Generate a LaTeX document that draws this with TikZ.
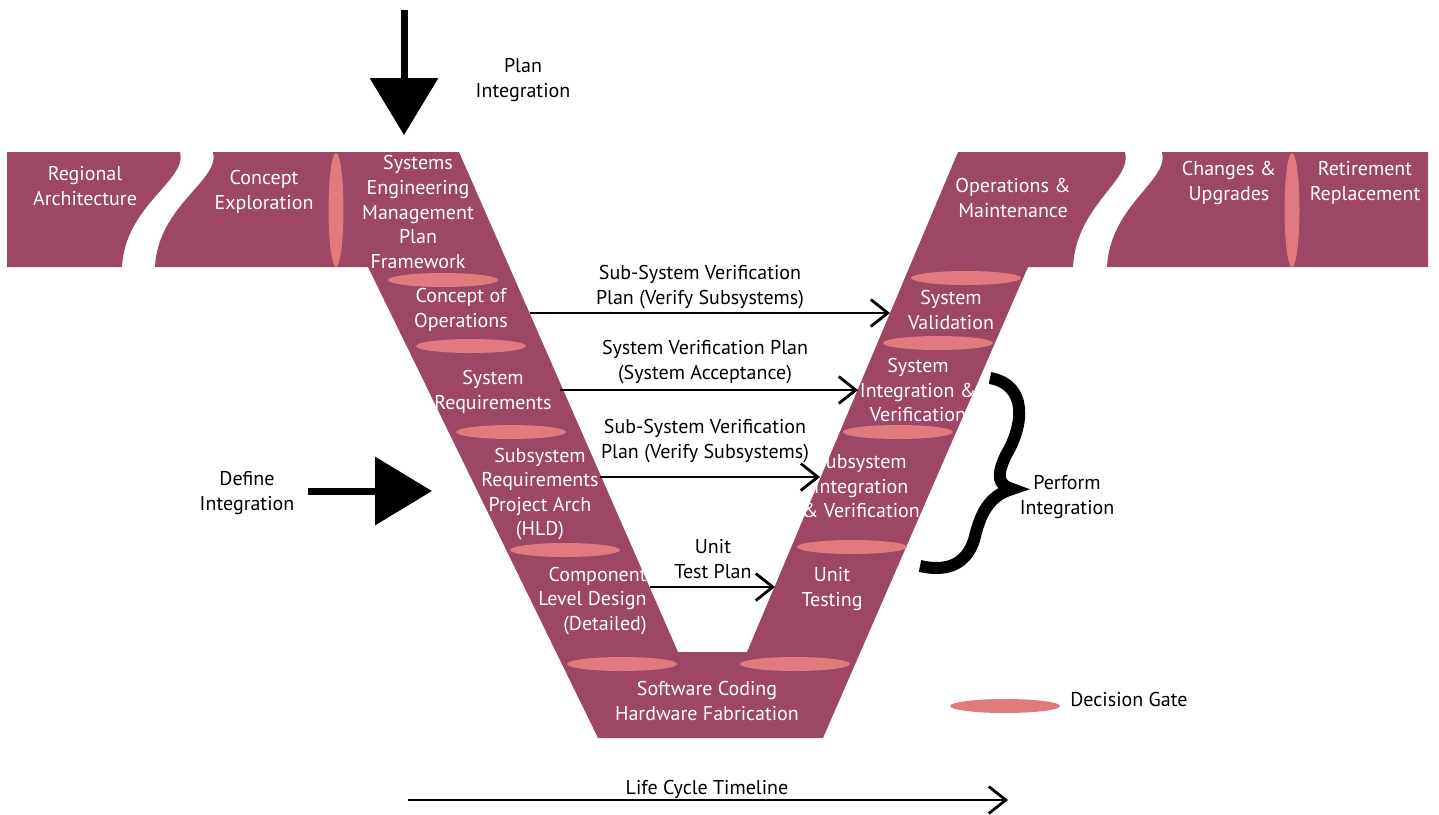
\documentclass[tikz,border=0pt]{standalone}
\usepackage{fontspec}
\setmainfont{PT Sans}
\usetikzlibrary{arrows.meta}

\definecolor{vband}{RGB}{157,70,101}
\definecolor{vgate}{RGB}{224,122,126}

\begin{document}
\begin{tikzpicture}[x=0.5pt, y=-0.5pt,
  lbl/.style={font=\fontsize{10}{12.3}\selectfont, align=center, inner sep=0pt},
  inband/.style={lbl, text=white},
  hgate/.style={fill=vgate, x radius=27.5pt, y radius=3.5pt},
  vgate/.style={fill=vgate, x radius=3.75pt, y radius=28.5pt},
  planarrow/.style={line width=1.4pt, -{Straight Barb[length=8.5pt, width=13.5pt]}},
  bigarrow/.style={line width=3.5pt, -{Triangle[length=28.5pt, width=33.5pt]}}]
\useasboundingbox (0,0) rectangle (1439,814);

% bands and the V
\fill[vband] (7,152) -- (180,152) .. controls (188,180) and (125,205) .. (122,267) -- (7,267) -- cycle;
\fill[vband] (213,152) -- (459,152) -- (678,652) -- (747,652) -- (958,152) -- (1125,152)
  .. controls (1133,180) and (1076,205) .. (1073,267) -- (1028,267) -- (823,738) -- (598,738)
  -- (368,267) -- (155,267) .. controls (158,205) and (221,180) .. (213,152) -- cycle;
\fill[vband] (1162,152) -- (1428,152) -- (1428,267) -- (1107,267) .. controls (1110,205) and (1170,180) .. (1162,152) -- cycle;

% decision gates
\fill[vgate] (336,210) ellipse [vgate];
\fill[vgate] (1292,210) ellipse [vgate];
\foreach \gx/\gy in {443/280, 471/346, 511/432, 565/550, 622/664,
                     795/664, 852/547, 898/432, 938/343, 966/278, 1005/706}
  \fill[vgate] (\gx,\gy) ellipse [hgate];

% phases
\node[inband] (regarch) at (85,186) {Regional\\Architecture};
\node[inband] (conexp) at (264,192) {Concept\\Exploration};
\node[inband] (semp) at (418,212) {Systems\\Engineering\\Management\\Plan\\Framework};
\node[inband] (conops) at (461,310) {Concept of\\Operations};
\node[inband] (sysreq) at (493,392) {System\\Requirements};
\node[inband] (subreq) at (540,494) {Subsystem\\Requirements\\Project Arch\\(HLD)};
\node[inband, align=right, anchor=east] (compdes) at (647,601) {Component\\Level Design\\(Detailed)};
\node[inband] (swhw) at (707,701) {Software Coding\\Hardware Fabrication};
\node[inband] (unittest) at (832,589) {Unit\\Testing};
\node[inband] (subint) at (861,486) {Subsystem\\Integration\\\& Verification};
\node[inband] (sysint) at (918,390) {System\\Integration \&\\Verification};
\node[inband] (sysval) at (951,310) {System\\Validation};
\node[inband] (opsmaint) at (1013,198) {Operations \&\\Maintenance};
\node[inband] (changes) at (1229,183) {Changes \&\\Upgrades};
\node[inband] (retire) at (1365,183) {Retirement\\Replacement};

% verification plans
\coordinate (vl1) at (530,313); \coordinate (vr1) at (890,313);
\coordinate (vl2) at (560,390); \coordinate (vr2) at (858,390);
\coordinate (vl3) at (600,477); \coordinate (vr3) at (820,477);
\coordinate (vl4) at (650,587); \coordinate (vr4) at (775,587);
\draw[planarrow] (vl1) -- (vr1);
\draw[planarrow] (vl2) -- (vr2);
\draw[planarrow] (vl3) -- (vr3);
\draw[planarrow] (vl4) -- (vr4);
\node[lbl] (plan1) at (700,287) {Sub-System Verification\\Plan (Verify Subsystems)};
\node[lbl] (plan2) at (705,362) {System Verification Plan\\(System Acceptance)};
\node[lbl] (plan3) at (705,441) {Sub-System Verification\\Plan (Verify Subsystems)};
\node[lbl] (plan4) at (713,559) {Unit\\Test Plan};

% integration
\coordinate (pstart) at (404,10); \coordinate (pend) at (404,135);
\draw[bigarrow] (pstart) -- (pend);
\node[lbl] (planint) at (523,80) {Plan\\Integration};
\coordinate (dstart) at (308,491); \coordinate (dend) at (432,491);
\draw[bigarrow] (dstart) -- (dend);
\node[lbl] (defint) at (247,493) {Define\\Integration};
\draw[line width=6pt] (990,378) .. controls (1028,385) and (1024,425) .. (1006,455)
  .. controls (996,476) and (998,485) .. (1012,489)
  .. controls (988,496) and (980,515) .. (974,540)
  .. controls (966,565) and (946,572) .. (920,566);
\node[lbl] (perfint) at (1067,497) {Perform\\Integration};

% legend and timeline
\node[lbl, anchor=west] (decgate) at (1070,699) {Decision Gate};
\coordinate (tstart) at (408,800); \coordinate (tend) at (1008,800);
\draw[planarrow] (tstart) -- (tend);
\node[lbl] (timeline) at (707,789) {Life Cycle Timeline};
\end{tikzpicture}
\end{document}
